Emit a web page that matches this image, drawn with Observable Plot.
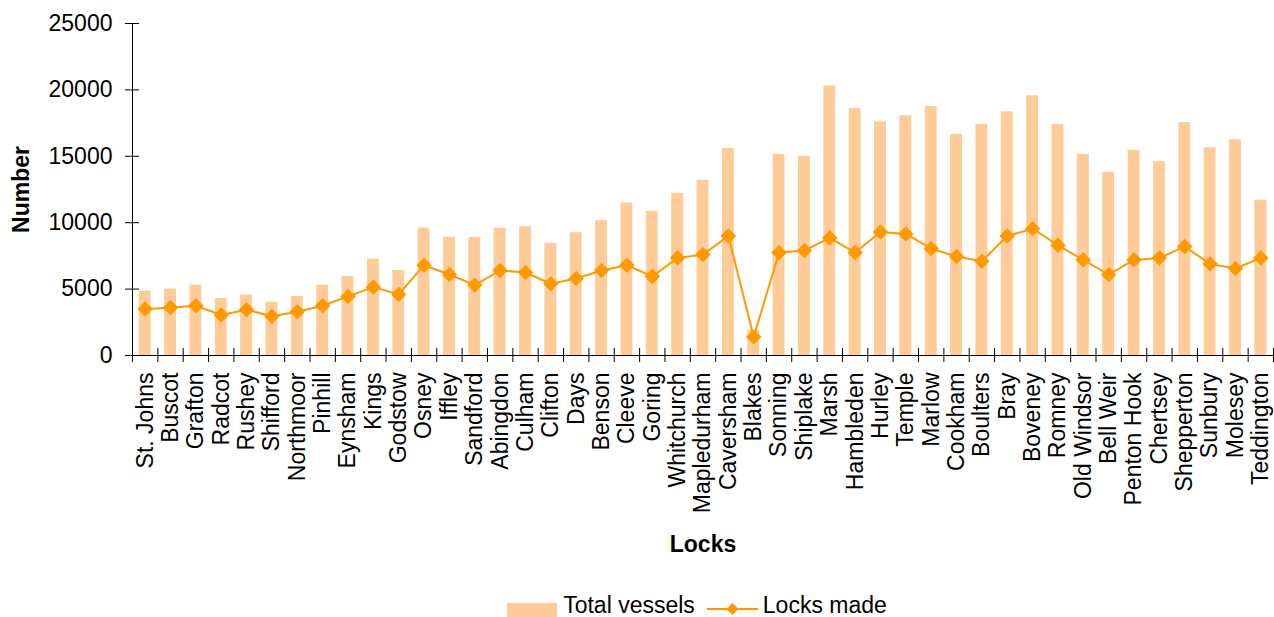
<!DOCTYPE html>
<html>
<head>
<meta charset="utf-8">
<script src="https://cdn.jsdelivr.net/npm/d3@7"></script>
<script src="https://cdn.jsdelivr.net/npm/@observablehq/plot@0.6"></script>
<style>
html, body { margin: 0; padding: 0; background: #fff; }
body { width: 1274px; height: 617px; overflow: hidden; position: relative; font-family: "Liberation Sans", Arial, sans-serif; }
#chart svg { display: block; }
g[aria-label="x-axis label"] text, g[aria-label="y-axis label"] text { font-weight: bold; }
.legend { position: absolute; top: 594px; left: 126px; width: 1142px; display: flex; justify-content: center; align-items: flex-start; font-size: 23px; line-height: 23px; color: #000; }
.legend .sw { width: 50px; height: 14px; background: #FFCC99; margin-top: 9px; margin-right: 6px; }
.legend .t1 { margin-right: 12px; }
.legend svg { margin-top: 8px; margin-right: 5px; display: block; }
</style>
</head>
<body>
<div id="chart"></div>
<div class="legend">
  <span class="sw"></span><span class="t1">Total vessels</span>
  <svg width="51" height="14"><line x1="0" y1="7" x2="51" y2="7" stroke="#FF9900" stroke-width="2"></line><path d="M25.5,1L31.5,7L25.5,13L19.5,7Z" fill="#FF9900"></path></svg>
  <span>Locks made</span>
</div>
<script>
const locks = ["St. Johns","Buscot","Grafton","Radcot","Rushey","Shifford","Northmoor","Pinhill","Eynsham","Kings","Godstow","Osney","Iffley","Sandford","Abingdon","Culham","Clifton","Days","Benson","Cleeve","Goring","Whitchurch","Mapledurham","Caversham","Blakes","Sonning","Shiplake","Marsh","Hambleden","Hurley","Temple","Marlow","Cookham","Boulters","Bray","Boveney","Romney","Old Windsor","Bell Weir","Penton Hook","Chertsey","Shepperton","Sunbury","Molesey","Teddington"];
const totalVessels = [4850,5000,5300,4300,4550,4000,4450,5300,5950,7250,6400,9600,8900,8900,9600,9700,8450,9250,10150,11500,10850,12200,13200,15600,1900,15150,15000,20300,18600,17600,18050,18750,16650,17400,18350,19550,17400,15150,13800,15450,14600,17550,15650,16250,11700];
const locksMade = [3500,3600,3750,3050,3450,2950,3300,3750,4450,5150,4600,6800,6100,5300,6400,6250,5400,5800,6400,6800,5950,7350,7600,9000,1400,7750,7900,8850,7750,9300,9150,8050,7450,7100,9000,9550,8300,7200,6100,7200,7350,8200,6900,6550,7350];
const yTicks = [0,5000,10000,15000,20000,25000];

const data = locks.map((lock, i) => ({lock, total: totalVessels[i], made: locksMade[i]}));

const W = 1274, H = 560, mL = 132, mR = 1, mT = 23, mB = 205;
const step = (W - mL - mR) / locks.length;
const last = locks[locks.length - 1];

const chart = Plot.plot({
  width: W, height: H,
  marginLeft: mL, marginRight: mR, marginTop: mT, marginBottom: mB,
  style: {fontFamily: "Liberation Sans, Arial, sans-serif", fontSize: "23px", color: "#000", background: "#fff", overflow: "visible"},
  x: {domain: locks, paddingInner: 0.53, paddingOuter: 0.265, round: false},
  y: {domain: [0, 25000]},
  marks: [
    Plot.barY(data, {x: "lock", y: "total", fill: "#FFCC99"}),
    Plot.ruleY([0], {stroke: "#000", strokeWidth: 1}),
    Plot.ruleX([locks[0]], {dx: -step / 2, stroke: "#000"}),
    Plot.ruleX(locks, {x: d => d, y1: 0, y2: 0, insetTop: -7, insetBottom: -7, dx: -step / 2, stroke: "#000"}),
    Plot.ruleX([last], {x: d => d, y1: 0, y2: 0, insetTop: -7, insetBottom: -7, dx: step / 2, stroke: "#000"}),
    Plot.lineY(data, {x: "lock", y: "made", stroke: "#FF9900", strokeWidth: 2}),
    Plot.dot(data, {x: "lock", y: "made", symbol: "diamond2", r: 6.5, fill: "#FF9900", stroke: "#FF9900", strokeWidth: 1}),
    Plot.axisY(yTicks, {tickSize: 0, tickPadding: 20, tickFormat: d => String(d), label: "Number", labelAnchor: "center", labelOffset: 120, labelArrow: "none"}),
    Plot.axisY(yTicks, {tickSize: 14, dx: 7, fill: "none", label: null}),
    Plot.axisX({tickSize: 0, tickRotate: -90, tickPadding: 17, label: "Locks", labelAnchor: "center", labelOffset: 196, labelArrow: "none"})
  ]
});
document.getElementById("chart").appendChild(chart);
</script>
</body>
</html>
